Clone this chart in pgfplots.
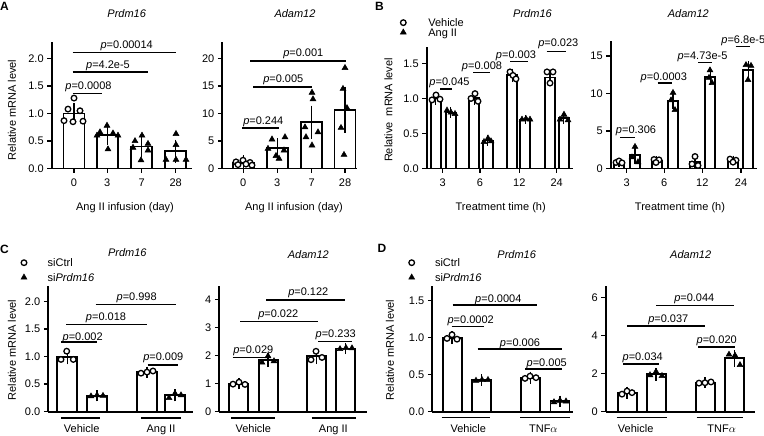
\documentclass[border=0pt]{standalone}
\usepackage{fontspec}
\setmainfont{Liberation Sans}
\usepackage{pgfplots}
\pgfplotsset{compat=1.18}
\newcommand\fs{\fontsize{11}{13}\selectfont}
\pgfplotsset{
 gp/.style={scale only axis, clip=false, anchor=south west, enlargelimits=false,
   axis x line=bottom, axis y line=left,
   axis line style={line width=1.9pt, -},
   tick align=outside, major tick length=4.5pt,
   tick style={line width=1.5pt, black},
   tick label style={font=\fs},
   xticklabel style={yshift=-2pt},
   ymin=0},
 bars/.style 2 args={ybar, bar shift=0pt, bar width=#1, fill=white, draw=black, line width=1.9pt, forget plot,
   error bars/.cd, y dir=both, y explicit,
   error bar style={line width=1.5pt, black, solid},
   error mark options={line width=1.5pt, black, mark size=#2}},
 circ/.style={only marks, mark=*, mark size=2.8pt, mark options={draw=black, fill=white, line width=1.3pt, solid}},
 tri/.style={only marks, mark=triangle*, mark size=3.4pt, mark options={draw=black, fill=black, line width=0.5pt, solid}},
 legimg/.style={legend image code/.code={\path[draw=none,fill=none] (-4pt,-1.8pt) rectangle (#1,7.9pt); \draw[##1] plot coordinates {(0pt,3.9pt)};}},
 leg/.style n args={3}{legend cell align=left, legend style={at={(#1,#2)}, anchor=north west, draw=none, fill=none, inner sep=0pt, outer sep=0pt, font=\fs, row sep=#3, column sep=0pt, nodes={inner sep=0pt, outer sep=0pt, text height=7.9pt, text depth=1.8pt, anchor=base west}}},
}
\tikzset{lab/.style={inner sep=0pt, text height=7.9pt, text depth=0pt, font=\fs}}
\newcommand\brk[3]{\draw[line width=1.6pt] (#1,436-#3) -- (#2,436-#3);}
\newcommand\pval[3]{\node[lab] at (#1,436-#2) {\textit{p}=#3};}
\newcommand\glab[2]{\node[lab] at (#1,436-429) {#2};}
\begin{document}
\begin{tikzpicture}
% ================= A left
\begin{axis}[gp, at={(51.7pt,267.5pt)}, width=140.3pt, height=126.5pt, xmin=51.7, xmax=192, ymax=2.3,
  xtick={74,107.3,141.7,175.7}, xticklabels={0,3,7,28},
  ytick={0,0.5,1,1.5,2}, yticklabels={0.0,0.5,1.0,1.5,2.0}]
\addplot[bars={21}{6.5pt}] coordinates {(74,1.0) +- (0,0.067) (107.3,0.605) +- (0,0.06) (141.7,0.40) +- (0,0.065) (175.7,0.31) +- (0,0.095)};
\addplot[circ] coordinates {(74,1.28) (68,1.08) (80,1.05) (64,0.87) (73,0.85) (83,0.86)};
\addplot[tri] coordinates {(107,0.78) (100,0.66) (113,0.64) (118,0.60) (97,0.60) (108,0.35)
 (142,0.60) (135,0.50) (148,0.45) (133,0.38) (148,0.33) (141,0.15)
 (176,0.63) (176,0.43) (166,0.16) (176,0.16) (186,0.16)};
\end{axis}
% ================= A right
\begin{axis}[gp, at={(222.3pt,267.5pt)}, width=134.7pt, height=126.5pt, xmin=222.3, xmax=357, ymax=23,
  xtick={243.3,277.3,311.7,345}, xticklabels={0,3,7,28},
  ytick={0,5,10,15,20}, yticklabels={0,5,10,15,20}]
\addplot[bars={21}{7pt}] coordinates {(243.3,1.0) +- (0,0.15) (277.3,3.65) +- (0,0.6) (311.7,8.4) +- (0,1.75) (345,10.7) +- (0,2.9)};
\addplot[circ] coordinates {(243,1.5) (236,1.2) (250,1.1) (238,0.7) (246,0.8) (252,0.6)};
\addplot[tri] coordinates {(272,5.3) (285,5.7) (268,3.6) (284,3.3) (276,2.3) (279,1.8)
 (312,13.8) (313,12.6) (305,7.5) (318,6.6) (306,5.7) (312,4.2)
 (345,18.3) (343,14.5) (347,11.0) (341,7.4) (344,2.5)};
\end{axis}
% ================= B left
\begin{axis}[gp, at={(426.7pt,267.5pt)}, width=146.3pt, height=121.8pt, xmin=426.7, xmax=573, ymax=1.74,
  xtick={442.7,480,519.3,556.7}, xticklabels={3,6,12,24},
  ytick={0,0.5,1,1.5}, yticklabels={0.0,0.5,1.0,1.5}, leg={-0.1873}{1.2303}{0pt}]
\addplot[bars={10}{4pt}] coordinates {(435.7,1.0) +- (0,0.03) (474.3,1.01) +- (0,0.04) (512.3,1.33) +- (0,0.04) (550,1.30) +- (0,0.05)
 (450.7,0.80) +- (0,0.02) (487.7,0.40) +- (0,0.02) (525.3,0.70) +- (0,0.005) (563.7,0.72) +- (0,0.03)};
\addplot[circ, legimg=25pt] coordinates {(432,0.98) (436,1.05) (440,0.99) (471,1.0) (475,1.07) (478,0.96)
 (510,1.38) (513,1.33) (516,1.28) (547,1.38) (553,1.38) (550,1.22)};
\addlegendentry{Vehicle}
\addplot[tri, legimg=25pt] coordinates {(447,0.83) (451,0.80) (455,0.78) (484,0.38) (488,0.43) (491,0.39)
 (522,0.70) (526,0.71) (530,0.70) (560,0.70) (564,0.77) (568,0.69)};
\addlegendentry{Ang II}
\end{axis}
% ================= B right
\begin{axis}[gp, at={(610.7pt,267.5pt)}, width=146.3pt, height=127.8pt, xmin=610.7, xmax=757, ymax=17.04,
  xtick={626.7,664.3,702.3,741}, xticklabels={3,6,12,24},
  ytick={0,5,10,15}, yticklabels={0,5,10,15}]
\addplot[bars={10}{4pt}] coordinates {(619,0.85) +- (0,0.08) (656.7,1.03) +- (0,0.09) (695,0.87) +- (0,0.35) (733.3,1.07) +- (0,0.12)
 (635,1.75) +- (0,0.6) (673,9.0) +- (0,0.6) (710.3,12.2) +- (0,0.5) (748.3,13.1) +- (0,0.65)};
\addplot[circ] coordinates {(616,0.8) (619,1.0) (622,0.75) (654,1.2) (659,1.15) (656,0.8)
 (695,1.6) (692,0.6) (698,0.4) (730,1.25) (736,1.1) (733,0.85)};
\addplot[tri] coordinates {(635,2.9) (632,1.5) (638,0.85) (673,10.1) (671,9.1) (675,7.8)
 (710,13.1) (709,12.1) (712,11.4) (746,13.8) (751,13.7) (748,11.8)};
\end{axis}
% ================= C left
\begin{axis}[gp, at={(48.3pt,24.3pt)}, width=144.7pt, height=125.7pt, xmin=48.3, xmax=193, ymax=2.2855,
  xtick=\empty, ytick={0,0.5,1,1.5,2}, yticklabels={0.0,0.5,1.0,1.5,2.0}, leg={-0.1956}{1.2172}{5pt}]
\addplot[bars={20}{5pt}] coordinates {(67.3,1.0) +- (0,0.05) (97,0.29) +- (0,0.01) (147,0.72) +- (0,0.01) (175,0.30) +- (0,0.02)};
\addplot[circ, legimg=23.7pt] coordinates {(61,0.95) (66.7,1.10) (73.3,0.95) (141,0.70) (147,0.72) (153,0.74)};
\addlegendentry{siCtrl}
\addplot[tri, legimg=23.7pt] coordinates {(91,0.28) (97,0.30) (103,0.29) (169,0.25) (175,0.33) (181,0.30)};
\addlegendentry{si\textit{Prdm16}}
\end{axis}
% ================= C right
\begin{axis}[gp, at={(219.3pt,24.3pt)}, width=147.4pt, height=125.7pt, xmin=219.3, xmax=366.7, ymax=4.4733,
  xtick=\empty, ytick={0,1,2,3,4}, yticklabels={0,1,2,3,4}]
\addplot[bars={19}{5pt}] coordinates {(238.8,1.0) +- (0,0.03) (268.2,1.84) +- (0,0.08) (316.5,1.97) +- (0,0.1) (345.7,2.25) +- (0,0.02)};
\addplot[circ] coordinates {(233,0.98) (239,1.05) (245,0.97) (311,1.85) (316,2.15) (322,1.93)};
\addplot[tri] coordinates {(262,1.75) (268,1.98) (274,1.80) (340,2.23) (346,2.27) (352,2.26)};
\end{axis}
% ================= D left
\begin{axis}[gp, at={(432.3pt,24.3pt)}, width=140.7pt, height=125.7pt, xmin=432.3, xmax=573, ymax=1.6986,
  xtick=\empty, ytick={0,0.5,1,1.5}, yticklabels={0.0,0.5,1.0,1.5}, leg={-0.1748}{1.2172}{5pt}]
\addplot[bars={19}{5pt}] coordinates {(452.2,1.0) +- (0,0.02) (481.7,0.43) +- (0,0.01) (530.5,0.46) +- (0,0.015) (560,0.14) +- (0,0.01)};
\addplot[circ, legimg=23.3pt] coordinates {(447,0.99) (452,1.04) (457,0.98) (525,0.45) (530,0.48) (536,0.46)};
\addlegendentry{siCtrl}
\addplot[tri, legimg=23.3pt] coordinates {(476,0.42) (482,0.43) (488,0.43) (554,0.13) (560,0.15) (566,0.14)};
\addlegendentry{si\textit{Prdm16}}
\end{axis}
% ================= D right
\begin{axis}[gp, at={(605.7pt,24.3pt)}, width=149.3pt, height=125.7pt, xmin=605.7, xmax=755, ymax=6.5984,
  xtick=\empty, ytick={0,2,4,6}, yticklabels={0,2,4,6}]
\addplot[bars={19}{5pt}] coordinates {(627.2,1.0) +- (0,0.06) (656.2,1.96) +- (0,0.06) (705.2,1.53) +- (0,0.02) (734.5,2.8) +- (0,0.18)};
\addplot[circ] coordinates {(622,0.92) (627,1.08) (632,1.0) (699,1.50) (705,1.52) (711,1.56)};
\addplot[tri] coordinates {(729,3.0) (735,2.95) (740,2.45) (650,1.92) (656,2.1) (662,1.88)};
\end{axis}
\begin{scope}[x=1pt,y=1pt]
% ================= annotations
\node[lab, font=\bfseries\fontsize{12}{14}\selectfont, text height=8.6pt] at (4.5,436-6) {A};
\node[lab, font=\bfseries\fontsize{12}{14}\selectfont, text height=8.6pt] at (379.5,436-6) {B};
\node[lab, font=\bfseries\fontsize{12}{14}\selectfont, text height=8.6pt] at (4.5,436-249) {C};
\node[lab, font=\bfseries\fontsize{12}{14}\selectfont, text height=8.6pt] at (382,436-248) {D};
% titles
\node[lab] at (126.7,436-13.3) {\textit{Prdm16}};
\node[lab] at (295,436-13.3) {\textit{Adam12}};
\node[lab] at (532.5,436-14) {\textit{Prdm16}};
\node[lab] at (688.3,436-13.3) {\textit{Adam12}};
\node[lab] at (127.3,436-252.7) {\textit{Prdm16}};
\node[lab] at (308.3,436-254.3) {\textit{Adam12}};
\node[lab] at (516.7,436-255) {\textit{Prdm16}};
\node[lab] at (690.7,436-254.3) {\textit{Adam12}};
% x labels
\node[lab] at (125,436-207) {Ang II infusion (day)};
\node[lab] at (294,436-207) {Ang II infusion (day)};
\node[lab] at (500.7,436-207) {Treatment time (h)};
\node[lab] at (680,436-207) {Treatment time (h)};
% y labels
\node[lab, rotate=90] at (12,436-110) {Relative mRNA level};
\node[lab, rotate=90] at (388.3,436-110) {Relative~ mRNA level};
\node[lab, rotate=90] at (12,436-350) {Relative mRNA level};
\node[lab, rotate=90] at (390,436-350) {Relative mRNA level};
% A brackets
\brk{72.7}{101.7}{93.7} \pval{88.5}{86}{0.0008}
\brk{72.7}{147.7}{72.3} \pval{108}{65}{4.2e-5}
\brk{72.7}{175.7}{52.7} \pval{126.7}{44.3}{0.00014}
\brk{242.3}{279.3}{128.3} \pval{263.3}{120.7}{0.244}
\brk{253.3}{311.7}{87.3} \pval{283.3}{79}{0.005}
\brk{250}{346}{61} \pval{303.3}{52.7}{0.001}
% B brackets
\brk{440}{451.7}{89.3} \pval{449.5}{82}{0.045}
\brk{473.3}{490}{72.7} \pval{482}{66}{0.008}
\brk{510}{528.3}{61.7} \pval{516}{54.3}{0.003}
\brk{546.7}{566}{51.7} \pval{558.3}{42.3}{0.023}
\brk{620}{635}{137.7} \pval{636}{130}{0.306}
\brk{657.7}{671.7}{83.3} \pval{663.8}{76.7}{0.0003}
\brk{698.3}{712.3}{62.7} \pval{702.5}{56}{4.73e-5}
\brk{735.7}{750}{46.7} \pval{743.3}{39.3}{6.8e-5}
% C brackets
\brk{61}{96.7}{342.3} \pval{82.7}{336.7}{0.002}
\brk{66}{146.7}{324.7} \pval{106}{316.7}{0.018}
\brk{95.7}{175.7}{304.7} \pval{136.7}{296.7}{0.998}
\brk{147.7}{177.7}{365} \pval{163.3}{356.7}{0.009}
\brk{232.7}{270}{357.7} \pval{253.3}{349.3}{0.029}
\brk{240}{317.7}{321.7} \pval{278.3}{314}{0.022}
\brk{266}{345}{300} \pval{308.3}{291.7}{0.122}
\brk{318.3}{351.7}{341.7} \pval{335.7}{333.3}{0.233}
% D brackets
\brk{451.7}{484}{326.7} \pval{470.7}{319.3}{0.0002}
\brk{452.7}{536.7}{305} \pval{498.3}{298.3}{0.0004}
\brk{477.7}{562.3}{349.3} \pval{520}{342.3}{0.006}
\brk{525}{561.7}{369.3} \pval{546.7}{362.3}{0.005}
\brk{623.3}{659.3}{364.3} \pval{642.7}{356.7}{0.034}
\brk{627.3}{705}{326} \pval{668.3}{318.7}{0.037}
\brk{656}{734}{305.7} \pval{694.3}{297.7}{0.044}
\brk{698.3}{735}{347.3} \pval{716.7}{339.3}{0.020}
% group lines and labels
\brk{61}{100}{418.3} \glab{81.7}{Vehicle}
\brk{141}{181}{418.3} \glab{161}{Ang II}
\brk{231}{275}{418.3} \glab{253.3}{Vehicle}
\brk{311.7}{355.7}{418.3} \glab{333.3}{Ang II}
\brk{441.7}{490}{417.7} \glab{468.3}{Vehicle}
\brk{520}{570}{417.7} \glab{543.3}{TNF$\alpha$}
\brk{616.7}{666.7}{417.7} \glab{635.7}{Vehicle}
\brk{696.7}{743.3}{417.7} \glab{721.7}{TNF$\alpha$}
\pgfresetboundingbox
\useasboundingbox (0,0) rectangle (764,436);
\end{scope}
\end{tikzpicture}
\end{document}
